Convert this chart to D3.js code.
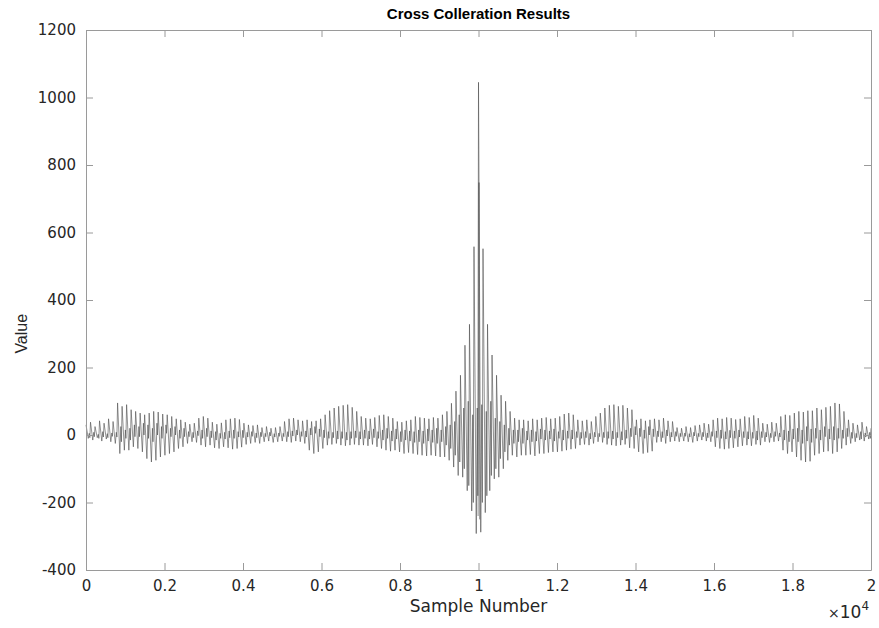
<!DOCTYPE html>
<html>
<head>
<meta charset="utf-8">
<script src="https://cdn.jsdelivr.net/npm/d3@7"></script>
<style>
  body { margin: 0; background: #fff; }
  text { font-family: "DejaVu Sans", sans-serif; fill: #262626; }
</style>
</head>
<body>
<div id="chart"></div>
<script>
var totalSamples = 20000; // length of the cross correlation
var halfPeriod = 10000 / 174; // samples between a peak and the next trough

// peak value of each oscillation cycle
var peaks = [30, 38, 25, 42, 35, 48, 40, 95, 85, 90, 75, 70, 65, 60, 65, 70, 68, 62, 60, 55,
    48, 45, 38, 32, 35, 50, 55, 50, 38, 32, 36, 45, 48, 50, 46, 35, 30, 28, 30, 22,
    25, 20, 22, 25, 40, 48, 50, 45, 42, 45, 40, 42, 48, 60, 72, 80, 85, 88, 90, 82,
    70, 55, 50, 48, 52, 58, 60, 55, 50, 40, 38, 42, 45, 55, 52, 50, 48, 52, 50, 60,
    70, 94, 130, 177, 266, 328, 558, 1045, 552, 328, 237, 177, 118, 100, 70, 50, 45, 45, 42, 48,
    45, 50, 52, 48, 50, 55, 62, 65, 60, 45, 42, 45, 40, 55, 65, 80, 88, 90, 85, 88,
    80, 75, 45, 48, 42, 45, 48, 45, 50, 42, 40, 22, 20, 25, 22, 28, 30, 35, 32, 45,
    50, 48, 52, 50, 46, 48, 55, 52, 58, 50, 35, 32, 38, 35, 55, 60, 58, 65, 70, 68,
    72, 72, 80, 75, 82, 85, 95, 92, 70, 45, 35, 30, 38, 25, 20];

// trough value between each pair of peaks
var troughs = [-10, -15, -8, -18, -12, -20, -25, -55, -45, -45, -35, -40, -50, -70, -80, -75, -65, -60, -55, -50,
    -40, -35, -25, -20, -22, -30, -35, -30, -38, -40, -35, -38, -42, -40, -36, -28, -25, -22, -25, -20,
    -18, -22, -20, -18, -20, -22, -18, -20, -25, -45, -55, -50, -40, -30, -28, -25, -30, -32, -30, -28,
    -30, -30, -32, -28, -35, -40, -45, -48, -45, -50, -55, -52, -55, -58, -60, -62, -60, -62, -65, -65,
    -75, -95, -120, -125, -165, -225, -292, -288, -230, -165, -130, -125, -100, -75, -60, -65, -60, -60, -58, -62,
    -55, -55, -52, -50, -50, -48, -45, -42, -40, -30, -28, -30, -25, -20, -22, -28, -30, -32, -30, -28,
    -38, -40, -50, -55, -52, -48, -22, -20, -25, -20, -18, -20, -18, -20, -22, -18, -15, -18, -20, -35,
    -40, -42, -40, -38, -35, -32, -30, -32, -28, -30, -20, -22, -20, -18, -45, -55, -50, -65, -75, -80,
    -78, -60, -55, -50, -48, -55, -50, -40, -30, -25, -20, -15, -18, -12];

// small ripple on the way back up from each trough: local high, then local low
var rippleHigh = [5, 8, 2, 10, 4, 6, 8, 25, 15, 20, 30, 25, 35, 30, 20, 35, 25, 30, 20, 25,
    15, 20, 10, 8, 12, 15, 20, 12, 10, 5, 8, 12, 15, 10, 14, 8, 10, 6, 8, 5,
    8, 4, 6, 5, 10, 12, 15, 10, 12, 20, 25, 18, 15, 10, 8, 12, 10, 8, 10, 12,
    10, 15, 12, 18, 10, 15, 20, 12, 18, 10, 15, 12, 10, 15, 12, 18, 15, 20, 15, 25,
    30, 40, 60, 80, 100, 60, 80, 90, 70, 100, 50, 40, 30, 20, 15, 15, 20, 12, 15, 10,
    18, 15, 12, 18, 10, 15, 12, 15, 10, 8, 10, 5, 8, 5, 8, 10, 12, 8, 10, 15,
    20, 25, 20, 15, 25, 18, 12, 10, 15, 8, 10, 5, 6, 4, 8, 5, 8, 6, 10, 12,
    15, 10, 14, 12, 15, 10, 10, 8, 12, 10, 8, 5, 10, 6, 15, 12, 18, 20, 15, 25,
    18, 20, 15, 25, 18, 25, 20, 15, 20, 8, 5, 10, 6, 8];
var rippleLow = [-8, -5, -10, -6, -8, -4, -6, -20, -10, -15, -5, -5, 0, -10, -20, 0, -10, 5, -5, 0,
    -10, -5, -5, -8, -2, -10, -5, -8, -15, -10, -12, -8, -10, -6, -8, -6, -4, -8, -5, -5,
    -3, -6, -4, -5, -5, -3, 0, -4, -6, 0, 5, -5, -8, -10, -8, -12, -10, -15, -10, -8,
    -12, -10, -12, -8, -10, -15, -10, -18, -12, -20, -15, -18, -22, -20, -25, -18, -22, -25, -20, -30,
    -40, -60, -80, -100, -150, -200, -180, -200, -180, -120, -100, -70, -50, -30, -25, -20, -25, -15, -20, -18,
    -12, -15, -12, -18, -10, -15, -10, -12, -8, -10, -8, -12, -6, -5, -8, -10, -12, -8, -15, -10,
    -5, 0, -5, -10, 0, -5, -5, -8, -3, -6, -4, -5, -4, -6, -3, -5, -5, -8, -4, -8,
    -10, -12, -8, -10, -6, -8, -12, -10, -15, -8, -6, -8, -4, -6, -15, -20, -12, -20, -25, -18,
    -22, -10, -15, -5, -12, -15, -10, -10, -5, -10, -8, -12, -6, -10];

// second spike right beside the main one
var spikeSamples = [9990, 10012, 10030];
var spikeValues = [-240, 748, -250];

var xTicks = [0, 0.2, 0.4, 0.6, 0.8, 1, 1.2, 1.4, 1.6, 1.8, 2];
var yTicks = [-400, -200, 0, 200, 400, 600, 800, 1000, 1200];

var width = 879, height = 628;
var margin = { left: 86, right: 8, top: 30, bottom: 58 };

var svg = d3.select("#chart").append("svg")
    .attr("width", width)
    .attr("height", height);

var x = d3.scaleLinear().domain([0, totalSamples]).range([margin.left, width - margin.right]);
var y = d3.scaleLinear().domain([-400, 1200]).range([height - margin.bottom, margin.top]);

// build the trace: peak, trough, ripple high, ripple low, next peak ...
var points = [];
for (var k = 0; k < peaks.length; k++) {
    var s = 2 * k * halfPeriod;
    points.push([s, peaks[k]]);
    if (k < troughs.length) {
        points.push([s + halfPeriod, troughs[k]]);
        points.push([s + 1.45 * halfPeriod, rippleHigh[k]]);
        points.push([s + 1.7 * halfPeriod, rippleLow[k]]);
    }
}

var line = d3.line()
    .x(function(d) { return x(d[0]); })
    .y(function(d) { return y(d[1]); });

svg.append("path")
    .datum(points)
    .attr("fill", "none")
    .attr("stroke", "#4a4a4a")
    .attr("stroke-width", 0.6)
    .attr("d", line);

svg.append("path")
    .datum(spikeSamples.map(function(s, i) { return [s, spikeValues[i]]; }))
    .attr("fill", "none")
    .attr("stroke", "#4a4a4a")
    .attr("stroke-width", 0.6)
    .attr("d", line);

// axes: ticks pointing inward, box on all four sides
var tickLen = 7;
var plain = function(d) { return String(d); };
var bottomAxis = d3.axisBottom(x)
    .tickValues(xTicks.map(function(t) { return t * 1e4; }))
    .tickFormat(function(d) { return String(+(d / 1e4).toFixed(1)); })
    .tickSizeInner(-tickLen).tickSizeOuter(0).tickPadding(10);
var leftAxis = d3.axisLeft(y)
    .tickValues(yTicks)
    .tickFormat(plain)
    .tickSizeInner(-tickLen).tickSizeOuter(0).tickPadding(10);

var gx = svg.append("g")
    .attr("transform", "translate(0," + (height - margin.bottom) + ")")
    .call(bottomAxis);
var gy = svg.append("g")
    .attr("transform", "translate(" + margin.left + ",0)")
    .call(leftAxis);

var gxTop = svg.append("g")
    .attr("transform", "translate(0," + margin.top + ")")
    .call(d3.axisTop(x).tickValues(xTicks.map(function(t) { return t * 1e4; })).tickFormat("")
        .tickSizeInner(-tickLen).tickSizeOuter(0));
var gyRight = svg.append("g")
    .attr("transform", "translate(" + (width - margin.right) + ",0)")
    .call(d3.axisRight(y).tickValues(yTicks).tickFormat("").tickSizeInner(-tickLen).tickSizeOuter(0));

[gx, gy, gxTop, gyRight].forEach(function(g) {
    g.select(".domain").attr("stroke", "#9a9a9a");
    g.selectAll(".tick line").attr("stroke", "#9a9a9a");
    g.selectAll(".tick text")
        .style("font-family", "'DejaVu Sans', sans-serif")
        .style("font-size", "15px")
        .attr("fill", "#262626");
});

// titles
svg.append("text")
    .attr("x", (margin.left + width - margin.right) / 2)
    .attr("y", 19)
    .attr("text-anchor", "middle")
    .style("font-family", "'Liberation Sans', Arial, sans-serif")
    .style("font-size", "15px")
    .style("font-weight", "bold")
    .style("fill", "#000")
    .text("Cross Colleration Results");

svg.append("text")
    .attr("x", (margin.left + width - margin.right) / 2)
    .attr("y", 612)
    .attr("text-anchor", "middle")
    .style("font-size", "17px")
    .text("Sample Number");

svg.append("text")
    .attr("transform", "translate(27," + (y(400) + y(200)) / 2 + ") rotate(-90)")
    .attr("text-anchor", "middle")
    .style("font-family", "'Liberation Sans', Arial, sans-serif")
    .style("font-size", "16px")
    .text("Value");

var expo = svg.append("text")
    .attr("x", 828)
    .attr("y", 618)
    .style("font-size", "17px");
expo.append("tspan").text("\u00d7").style("font-size", "14px");
expo.append("tspan").text("10");
expo.append("tspan").text("4").attr("dy", -8).style("font-size", "12px");
</script>
</body>
</html>
